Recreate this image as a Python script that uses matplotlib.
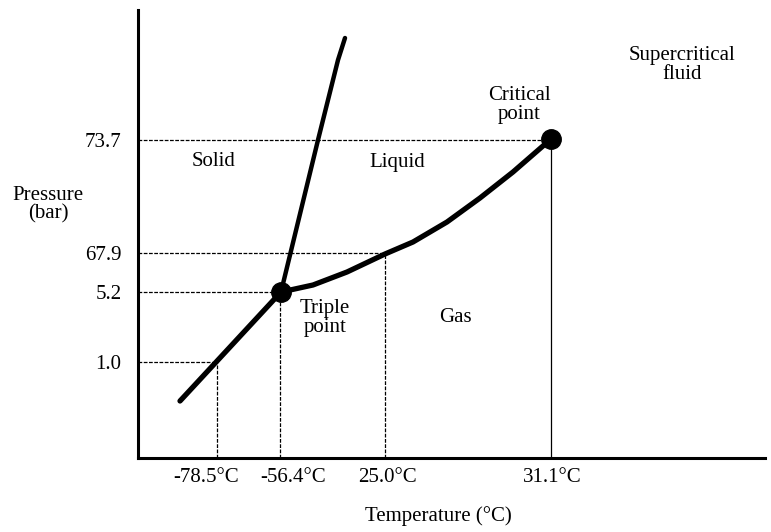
import matplotlib.pyplot as plt

plt.rcParams['font.family'] = ['Liberation Serif', 'DejaVu Serif']

# schematic positions on the axes (the diagram is not to scale)
temp_labels = ["-78.5°C", "-56.4°C", "25.0°C", "31.1°C"]
temp_label_pos = [68, 155, 249, 414]
pres_labels = ["73.7", "67.9", "5.2", "1.0"]
pres_pos = [318, 205, 166, 96]

# phase boundaries
subl_x = [42, 143]
subl_y = [57, 166]
melt_x = [143, 180, 200, 207]
melt_y = [166, 318, 398, 420]
vap_x = [143, 175, 209, 247, 275, 309, 342, 375, 413]
vap_y = [166, 173, 186, 204, 216, 236, 260, 286, 319]

triple = (143, 166)
critical = (413, 319)

# where each guide line meets the curves
guide_x = [79, 142, 247, 413]
guide_y = [96, 166, 205, 318]

fig = plt.figure(figsize=(7.71, 5.32), dpi=100)
ax = fig.add_axes([138 / 771, 74 / 532, 627 / 771, 448 / 532])
ax.set_xlim(0, 627)
ax.set_ylim(0, 448)

for s in ['top', 'right']:
    ax.spines[s].set_visible(False)
for s in ['left', 'bottom']:
    ax.spines[s].set_linewidth(2.2)

dash = (0, (3, 1.2))
# horizontal guides from the pressure axis
ax.plot([0, critical[0]], [pres_pos[0]] * 2, color='black', lw=0.9, ls=dash)
ax.plot([0, guide_x[2]], [pres_pos[1]] * 2, color='black', lw=0.9, ls=dash)
ax.plot([0, guide_x[1]], [pres_pos[2]] * 2, color='black', lw=0.9, ls=dash)
ax.plot([0, guide_x[0]], [pres_pos[3]] * 2, color='black', lw=0.9, ls=dash)
# vertical guides from the temperature axis
for gx, gy in zip(guide_x[:3], guide_y[:3]):
    ax.plot([gx, gx], [0, gy], color='black', lw=0.9, ls=dash)
ax.plot([guide_x[3], guide_x[3]], [0, guide_y[3]], color='black', lw=0.9)

# phase lines
ax.plot(subl_x, subl_y, color='black', lw=3.8, solid_capstyle='round')
ax.plot(melt_x, melt_y, color='black', lw=3.2, solid_capstyle='round')
ax.plot(vap_x, vap_y, color='black', lw=3.8, solid_capstyle='round',
        solid_joinstyle='round')

ax.plot(*triple, 'o', color='black', markersize=14)
ax.plot(*critical, 'o', color='black', markersize=14)

fs = 15
ax.set_xticks(temp_label_pos)
ax.set_xticklabels(temp_labels, fontsize=fs)
ax.set_yticks(pres_pos)
ax.set_yticklabels(pres_labels, fontsize=fs)
ax.tick_params(axis='x', length=0, pad=7)
ax.tick_params(axis='y', length=0, pad=12)

ax.text(76, 296, "Solid", fontsize=fs, ha='center', va='center')
ax.text(259, 295, "Liquid", fontsize=fs, ha='center', va='center')
ax.text(317, 140, "Gas", fontsize=fs, ha='center', va='center')
ax.text(187, 140, "Triple\npoint", fontsize=fs, ha='center', va='center',
        linespacing=0.95)
ax.text(381, 353, "Critical\npoint", fontsize=fs, ha='center', va='center',
        linespacing=0.95)
ax.text(544, 393, "Supercritical\nfluid", fontsize=fs, ha='center', va='center',
        linespacing=0.95)

fig.text(48 / 771, 1 - 205 / 532, "Pressure\n(bar)", fontsize=fs,
         ha='center', va='center', linespacing=0.95)
fig.text(438 / 771, 1 - 516 / 532, "Temperature (°C)", fontsize=fs,
         ha='center', va='center')

fig.savefig("out.png", dpi=100)
